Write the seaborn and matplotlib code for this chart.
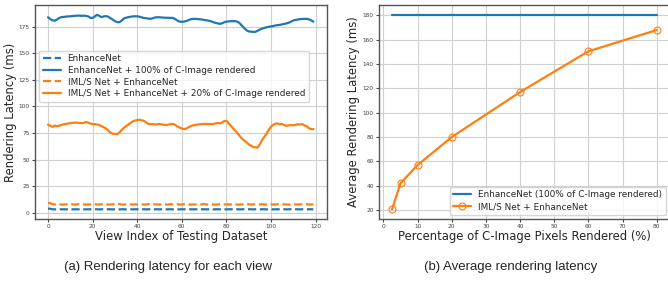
import numpy as np
import pandas as pd
import matplotlib
matplotlib.use("Agg")
import matplotlib.pyplot as plt
import seaborn as sns

sns.set_style("ticks", {"axes.grid": True, "grid.color": "#d0d0d0",
                        "axes.edgecolor": "#555555"})
plt.rcParams['font.family'] = ['DejaVu Sans']

blue = "#1f77b4"
orange = "#ff7f0e"

# ---- (a) per-view latency ----
view_idx = list(range(120))
enh_full = [183.7, 182, 180.8, 180.5, 181.5, 183, 183.8, 184, 184.3, 184.5,
            184.6, 184.8, 185, 185.2, 185.3, 185, 185.2, 185, 184.5, 183.2,
            183, 184.5, 186, 185, 183.8, 184.5, 184.8, 184.2, 182.8, 181.5,
            180, 179.2, 179, 180.5, 182.5, 183.2, 183.8, 184.2, 184.5, 184.6,
            184.6, 184.2, 183.6, 183, 182.8, 182.5, 182.2, 182.8, 183.5, 183.7,
            183.7, 183.5, 183.3, 183.2, 183.2, 183.1, 183.1, 182, 180.6, 179.6,
            179.5, 179.6, 180.2, 181, 181.8, 182.2, 182.2, 182, 181.8, 181.6,
            181.2, 180.8, 180.5, 180, 179.2, 178.5, 178, 177.5, 178, 179,
            179.6, 179.8, 180, 180, 180, 179.5, 178, 175.7, 173.5, 171.5,
            170.4, 170.2, 170, 170, 171, 172.2, 173, 173.7, 174.3, 174.8,
            175, 175.5, 176, 176.3, 176.6, 177, 177.5, 178, 178.6, 179.6,
            180.6, 181.2, 181.6, 181.9, 182.1, 182.2, 182.2, 181.8, 180.8, 179.6]
iml_20 = [83, 81.8, 80.8, 82, 81.5, 82, 82.5, 83.3, 83.5, 84,
          84.3, 84.6, 84.8, 84.7, 84.5, 84.4, 84.5, 85.4, 84.8, 84,
          83.3, 83.4, 83, 82.6, 81.5, 80.5, 79.2, 77.5, 75.5, 74.5,
          74.2, 73.9, 75.5, 77.8, 80, 81.5, 83, 84.5, 86, 86.8,
          87.3, 87.5, 87, 86.5, 85, 83.6, 83.3, 83.5, 83, 83.3,
          83.6, 83.2, 82.8, 82.5, 83, 83.4, 83.6, 82.8, 81.2, 80.3,
          79.3, 78.8, 79.2, 80.5, 81.5, 82.2, 82.6, 83, 83.2, 83.4,
          83.6, 83.5, 83.5, 83.6, 83.4, 84, 84.5, 84, 84.8, 86.2,
          86.5, 84.3, 81.8, 79.5, 77.2, 74.8, 72.2, 69.8, 68, 66.5,
          64.5, 63.2, 62, 61.6, 61.3, 64.5, 68.5, 71.5, 74.5, 78,
          81, 82.8, 83.9, 84, 83.2, 83.5, 82.5, 81.8, 82.3, 82.5,
          82.3, 82.8, 83.3, 83, 83.4, 82.2, 81.5, 79.5, 78.8, 78.8]
enh_only = [4.2, 4.0, 3.5, 3.4, 3.5, 3.4, 3.5, 3.5, 3.4, 3.5,
            3.5, 3.4, 3.5, 3.5, 3.4, 3.5, 3.5, 3.4, 3.5, 3.5,
            3.4, 3.5, 3.5, 3.4, 3.5, 3.5, 3.4, 3.5, 3.5, 3.4,
            3.5, 3.5, 3.4, 3.5, 3.5, 3.4, 3.5, 3.5, 3.4, 3.5,
            3.5, 3.4, 3.5, 3.5, 3.4, 3.5, 3.5, 3.4, 3.5, 3.5,
            3.4, 3.5, 3.5, 3.4, 3.5, 3.5, 3.4, 3.5, 3.5, 3.4,
            3.5, 3.5, 3.4, 3.5, 3.5, 3.4, 3.5, 3.5, 3.4, 3.5,
            3.5, 3.4, 3.5, 3.5, 3.4, 3.5, 3.5, 3.4, 3.5, 3.5,
            3.4, 3.5, 3.5, 3.4, 3.5, 3.5, 3.4, 3.5, 3.5, 3.4,
            3.5, 3.5, 3.4, 3.5, 3.5, 3.4, 3.5, 3.5, 3.4, 3.5,
            3.5, 3.4, 3.5, 3.5, 3.4, 3.5, 3.5, 3.4, 3.5, 3.5,
            3.4, 3.5, 3.5, 3.4, 3.5, 3.5, 3.4, 3.5, 3.5, 3.4]
iml_only = [9.5, 9.3, 8.2, 8.0, 8.0, 8.3, 7.9, 8.0, 8.2, 8.0,
            8.0, 8.1, 7.9, 8.0, 8.3, 8.0, 8.0, 7.9, 8.1, 8.0,
            8.0, 8.2, 8.0, 8.0, 8.1, 8.4, 8.0, 7.9, 8.0, 8.2,
            8.0, 8.0, 8.3, 8.0, 7.9, 8.0, 8.1, 8.0, 8.0, 8.2,
            8.0, 8.0, 8.1, 8.0, 7.9, 8.4, 8.0, 8.0, 8.1, 8.0,
            8.0, 8.2, 8.0, 7.9, 8.0, 8.3, 8.0, 8.0, 8.1, 8.0,
            8.0, 8.2, 8.0, 8.0, 7.9, 8.1, 8.0, 8.0, 8.2, 8.0,
            8.4, 8.0, 8.0, 8.1, 8.0, 7.9, 8.0, 8.2, 8.0, 8.0,
            8.1, 8.0, 8.0, 8.3, 8.0, 7.9, 8.0, 8.1, 8.0, 8.0,
            8.2, 8.0, 8.0, 8.1, 8.0, 8.0, 8.3, 8.0, 7.9, 8.0,
            8.1, 8.0, 8.0, 8.2, 8.0, 8.0, 8.1, 8.0, 7.9, 8.0,
            8.3, 8.0, 8.0, 8.1, 8.0, 8.0, 8.2, 8.0, 8.0, 8.0]

# ---- (b) average latency ----
pct_rendered = [2.5, 5, 10, 20, 40, 60, 80]
avg_full = [180.5, 180.5, 180.5, 180.5, 180.5, 180.5, 180.5]
avg_iml = [20.5, 42, 57, 80, 117, 150.5, 168]

fig = plt.figure(figsize=(6.68, 2.82), dpi=100)
ax1 = fig.add_axes([0.052, 0.223, 0.437, 0.759])
ax2 = fig.add_axes([0.567, 0.223, 0.436, 0.759])

lw = 1.6
sns.lineplot(x=view_idx, y=enh_only, ax=ax1, color=blue, linestyle="--",
             lw=lw, label="EnhanceNet")
sns.lineplot(x=view_idx, y=enh_full, ax=ax1, color=blue, lw=lw,
             label="EnhanceNet + 100% of C-Image rendered")
sns.lineplot(x=view_idx, y=iml_only, ax=ax1, color=orange, linestyle="--",
             lw=lw, label="IML/S Net + EnhanceNet")
sns.lineplot(x=view_idx, y=iml_20, ax=ax1, color=orange, lw=lw,
             label="IML/S Net + EnhanceNet + 20% of C-Image rendered")
ax1.set_xticks([0, 20, 40, 60, 80, 100, 120])
ax1.set_yticks([0, 25, 50, 75, 100, 125, 150, 175])
ax1.set_xlabel("View Index of Testing Dataset", fontsize=8.4, labelpad=1)
ax1.set_ylabel("Rendering Latency (ms)", fontsize=8.4)
ax1.yaxis.set_label_coords(-0.062, 0.5)
ax1.legend(loc="center left", bbox_to_anchor=(0, 0.668), fontsize=6.4,
           frameon=True, handlelength=2.0, labelspacing=0.3)

sns.lineplot(x=pct_rendered, y=avg_full, ax=ax2, color=blue, lw=lw,
             label="EnhanceNet (100% of C-Image rendered)")
sns.lineplot(x=pct_rendered, y=avg_iml, ax=ax2, color=orange, lw=lw,
             marker="o", markersize=5, markerfacecolor="none",
             markeredgecolor=orange, markeredgewidth=0.8,
             label="IML/S Net + EnhanceNet")
ax2.set_xticks([0, 10, 20, 30, 40, 50, 60, 70, 80])
ax2.set_yticks([20, 40, 60, 80, 100, 120, 140, 160, 180])
ax2.set_xlabel("Percentage of C-Image Pixels Rendered (%)", fontsize=8.4, labelpad=1)
ax2.set_ylabel("Average Rendering Latency (ms)", fontsize=8.4)
ax2.yaxis.set_label_coords(-0.066, 0.5)
ax2.legend(loc="lower right", fontsize=6.4, frameon=True, handlelength=2.0,
           labelspacing=0.3)

for ax in (ax1, ax2):
    ax.tick_params(labelsize=4.2, length=2, pad=1.5, colors="#444444")
    for s in ax.spines.values():
        s.set_linewidth(1.0)

fig.text(0.251, 0.053, "(a) Rendering latency for each view", ha="center",
         va="center", fontsize=9.5, family="Liberation Sans")
fig.text(0.765, 0.053, "(b) Average rendering latency", ha="center",
         va="center", fontsize=9.5, family="Liberation Sans")

fig.savefig("out.png", dpi=100)
